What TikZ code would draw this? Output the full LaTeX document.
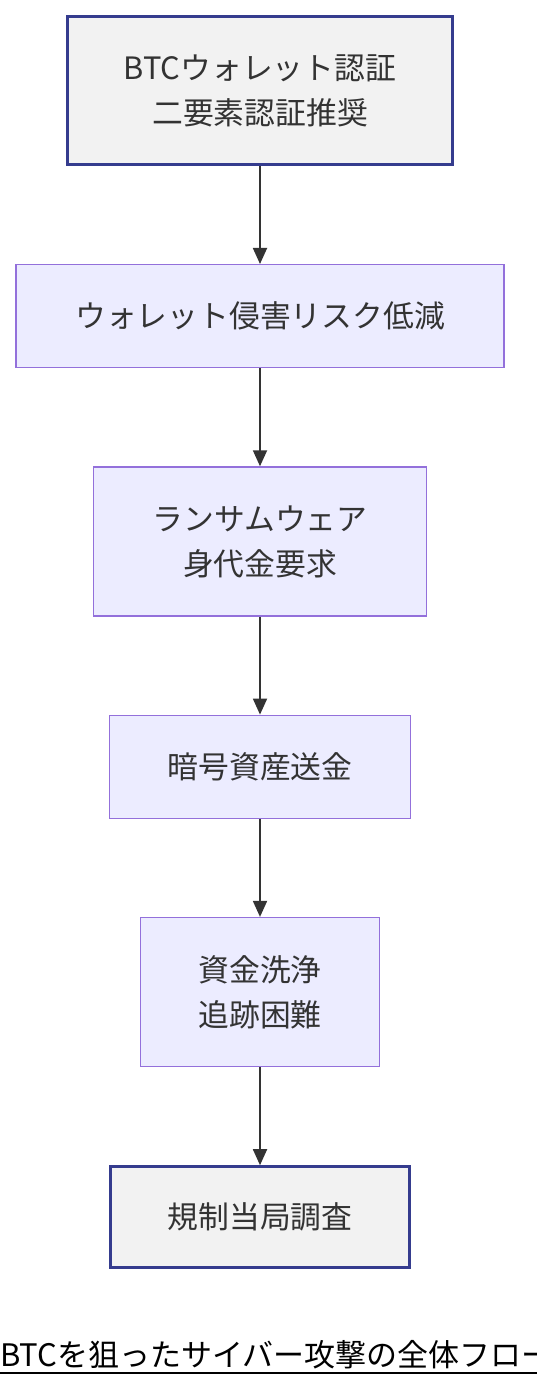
\documentclass[tikz,border=0pt]{standalone}
\usepackage{fontspec}
\setmainfont{Noto Sans CJK JP}
\usetikzlibrary{positioning,arrows.meta}
\definecolor{flowfill}{HTML}{ECECFF}
\definecolor{flowline}{HTML}{9370DB}
\definecolor{termfill}{HTML}{F2F2F2}
\definecolor{termline}{HTML}{353C8E}
\definecolor{ink}{HTML}{333333}

\begin{document}
\begin{tikzpicture}[
		flowbox/.style={draw=flowline, fill=flowfill, line width=1.3pt, text=ink, align=center, inner sep=0pt, font=\fontsize{30.8}{45}\selectfont},
		termbox/.style={flowbox, draw=termline, fill=termfill, line width=3pt},
		flow/.style={draw=ink, line width=1.8pt, -{Triangle[length=16pt,width=14pt]}}]
		\useasboundingbox (0pt,0pt) rectangle (536pt,-1388pt);
		\node[termbox, minimum width=385pt, minimum height=148pt] (wallet) at (260pt,-90.5pt) {BTCウォレット認証\\二要素認証推奨};
		\node[flowbox, minimum width=488pt, minimum height=103pt, below=98pt of wallet] (risk) {ウォレット侵害リスク低減};
		\node[flowbox, minimum width=333pt, minimum height=149pt, below=98pt of risk] (ransom) {ランサムウェア\\身代金要求};
		\node[flowbox, minimum width=301pt, minimum height=103pt, below=98pt of ransom] (send) {暗号資産送金};
		\node[flowbox, minimum width=239pt, minimum height=149pt, below=98pt of send] (launder) {資金洗浄\\追跡困難};
		\node[termbox, minimum width=299pt, minimum height=101pt, below=98pt of launder] (probe) {規制当局調査};
		\draw[flow] (wallet) -- (risk);
		\draw[flow] (risk) -- (ransom);
		\draw[flow] (ransom) -- (send);
		\draw[flow] (send) -- (launder);
		\draw[flow] (launder) -- (probe);
		% caption, cut off at the right edge
		\node[anchor=base west, inner sep=0pt, font=\fontsize{31}{31}\selectfont] (title) at (0pt,-1366pt) {BTCを狙ったサイバー攻撃の全体フロー};
		\draw[line width=2pt] ([yshift=-7pt]title.base west) -- ([yshift=-7pt]title.base east);
	\end{tikzpicture}
\end{document}
